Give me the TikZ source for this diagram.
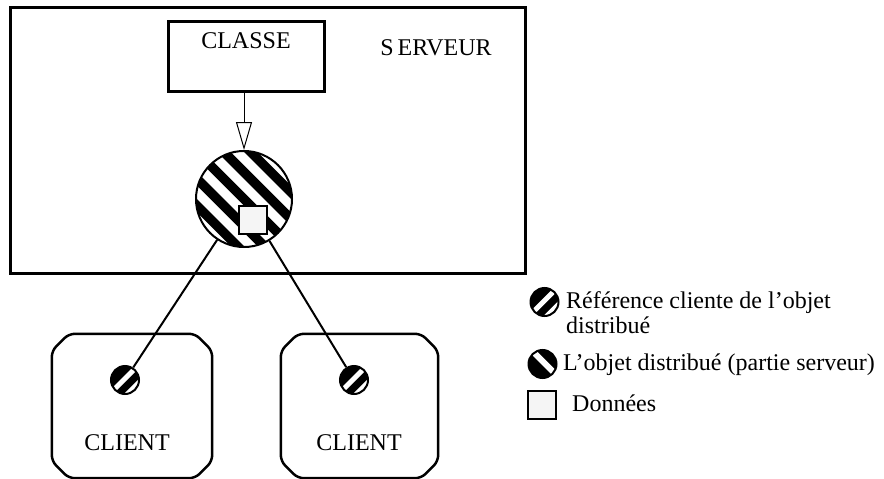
\documentclass[tikz,border=0pt]{standalone}
\usepackage{fontspec}
\setmainfont{Liberation Serif}
\usetikzlibrary{arrows.meta,calc}
\begin{document}
\begin{tikzpicture}[x=1pt,y=-1pt,
  lbl/.style={font=\fontsize{24}{27}\selectfont, inner sep=0pt},
  leg/.style={font=\fontsize{24}{25}\selectfont, inner sep=0pt, align=left},
  frame/.style={draw, line width=2.5pt, inner sep=0pt},
  conn/.style={line width=2pt},
  bigobj/.style={circle, draw, line width=2pt, inner sep=0pt, minimum size=96pt, fill=white,
    path picture={
      \foreach \k in {-3,...,3}
        \draw[black, line width=9.5pt]
          ($(path picture bounding box.center)+({\k*13.435-60},{-\k*13.435-60})$) -- ++(120,120);
    }},
  refobj/.style={circle, draw, line width=2pt, inner sep=0pt, minimum size=#1, fill=black,
    path picture={
      \draw[white, line width=5pt]
        ($(path picture bounding box.center)+(-20.7,19.3)$) -- ++(40,-40);
      \draw[white, line width=4pt]
        ($(path picture bounding box.center)+(-12.2,27.8)$) -- ++(40,-40);
    }},
  refobj/.default=28pt,
  legsrv/.style={circle, draw, line width=2pt, inner sep=0pt, minimum size=28pt, fill=black,
    path picture={
      \draw[white, line width=6pt]
        ($(path picture bounding box.center)+(-18.6,-21.4)$) -- ++(40,40);
    }},
  datasq/.style={draw, line width=2pt, fill=gray!8, inner sep=0pt, minimum size=28pt},
]
\useasboundingbox (0,0) rectangle (884,479);

% server
\node[draw, line width=3pt, inner sep=0pt, minimum width=515pt, minimum height=266pt] (server) at (267.5,140) {};
\node[lbl] (servertxt) at (436,48) {S\kern4pt ERVEUR};

% classe
\node[frame, minimum width=156pt, minimum height=70pt] (classe) at (246.5,56.5) {};
\node[lbl] (classetxt) at (246,41) {CLASSE};

% distributed object
\node[bigobj] (obj) at (244,199) {};
\node[datasq] (data) at (253,220) {};
\draw[line width=1pt, -{Triangle[open, length=28pt, width=16pt, line width=1pt]}] (classe.south -| obj.north) -- (obj.north);

% clients
\node[inner sep=0pt, minimum width=160pt, minimum height=144pt] (client1) at (132,406) {};
\node[inner sep=0pt, minimum width=157pt, minimum height=144pt] (client2) at (359.5,406) {};
\foreach \c in {client1,client2}{
  \draw[line width=2.5pt, rounded corners=6pt]
    ($(\c.north west)+(17,0)$) -- ($(\c.north east)+(-17,0)$) -- ($(\c.north east)+(0,17)$)
    -- ($(\c.south east)+(0,-17)$) -- ($(\c.south east)+(-17,0)$) -- ($(\c.south west)+(17,0)$)
    -- ($(\c.south west)+(0,-17)$) -- ($(\c.north west)+(0,17)$) -- cycle;
}
\node[lbl] (client1txt) at (127,443) {CLIENT};
\node[lbl] (client2txt) at (359,443) {CLIENT};

\node[refobj] (ref1) at (125,380) {};
\node[refobj] (ref2) at (354,380) {};
\draw[conn] (obj) -- (ref1);
\draw[conn] (obj) -- (ref2);

% legend
\node[refobj] (legref) at (544.5,302) {};
\node[leg, anchor=north west] (legreftxt) at (566,291.5) {Référence cliente de l’objet\\distribué};
\node[legsrv] (legsrv) at (542.5,364) {};
\node[leg, anchor=base west] (legsrvtxt) at (563,370) {L’objet distribué (partie serveur)};
\node[datasq] (legdata) at (542,405) {};
\node[leg, anchor=base west] (legdatatxt) at (572,411) {Données};
\end{tikzpicture}
\end{document}
